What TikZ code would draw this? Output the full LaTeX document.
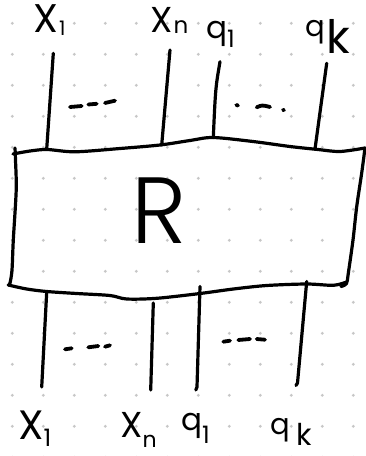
\documentclass[tikz,border=0pt]{standalone}
\usepackage{fontspec}
\newfontfamily\hand{Poppins}
\newfontfamily\handthin{Poppins}[UprightFont=* Light]
\newcommand{\fs}[1]{\fontsize{#1}{#1}\selectfont}
\begin{document}
\begin{tikzpicture}[x=1pt,y=-1pt,line cap=round,line join=round,
  ink/.style={line width=3.2pt,black},
  dashink/.style={line width=3.8pt,black},
  dotg/.style={fill=black!22},
  lbl/.style={anchor=base west,inner sep=0pt,font=\hand}]
\useasboundingbox (0,0) rectangle (366,456);
\fill[white] (0,0) rectangle (366,456);
% dotted grid
\foreach \i in {0,...,11}{\foreach \j in {0,...,14}{\fill[dotg] ({12.3+31*\i},{23.3+31*\j}) circle (1.6pt);}}
% box R
\draw[ink] plot[smooth] coordinates {(13,154) (30,151) (47,149.5) (75,151.8) (120,148.5) (160,145) (190,140.5) (213,137.5) (253,141.5) (290,146.5) (318,149.5) (340,151.5) (365,148)};
\draw[ink] plot[smooth] coordinates {(365,148) (361.7,173) (356.7,206.7) (353,240) (348.3,273.3) (346.5,283.5) (341,286.5)};
\draw[ink] plot[smooth] coordinates {(346.7,282) (333.3,285.3) (306.7,284) (266.7,285.5) (233.3,289) (200,293.5) (156.7,298.3) (126.7,299) (110,295.5) (76.7,293.5) (46.7,291.5) (26.7,289) (8.3,285)};
\draw[ink] plot[smooth] coordinates {(8.3,285) (10,283) (12,270) (13.3,240) (16.2,190) (15.5,160) (15,148)};
\node[inner sep=0pt,font=\handthin\fs{94}] (R) at (159,211) {R};
% top wires
\coordinate (t1a) at (53.3,53.3);  \coordinate (t1b) at (46.7,149);
\coordinate (t2a) at (170,50);     \coordinate (t2b) at (161.7,145);
\coordinate (t3a) at (220,61.7);   \coordinate (t3m) at (215.5,88); \coordinate (t3b) at (213.3,137.5);
\coordinate (t4a) at (326.7,63.3); \coordinate (t4b) at (315,149);
\draw[ink] (t1a) -- (t1b);
\draw[ink] (t2a) -- (t2b);
\draw[ink] (t3a) .. controls (t3m) .. (t3b);
\draw[ink] (t4a) -- (t4b);
% bottom wires
\coordinate (b1a) at (46.7,292);   \coordinate (b1b) at (41.7,387);
\coordinate (b2a) at (153.3,303);  \coordinate (b2b) at (150.7,390);
\coordinate (b3a) at (200,286.5);  \coordinate (b3b) at (197,387); \coordinate (b3c) at (195.8,390);
\coordinate (b4a) at (306.7,281.5);\coordinate (b4b) at (297.5,383); \coordinate (b4c) at (296,385.5);
\draw[ink] (b1a) -- (b1b);
\draw[ink] (b2a) -- (b2b);
\draw[ink] (b3a) -- (b3b) -- (b3c);
\draw[ink] (b4a) -- (b4b) -- (b4c);
% ellipses (dashes)
\draw[dashink] (70,107) -- (81.7,106);
\draw[dashink] (88.3,104.5) -- (96.7,103.8);
\draw[dashink] (105,103) -- (115,100.7);
\draw[dashink] (236.3,105) -- (238,105.5);
\draw[dashink] (256.7,107.3) .. controls (262,105) .. (270,107);
\draw[dashink] (283,109.8) -- (284,110.2);
\draw[dashink] (65,349.3) -- (71.7,348.3);
\draw[dashink] (88.3,347.3) -- (98.3,346);
\draw[dashink] (105,346.7) -- (110,345.3);
\draw[dashink] (223.3,341.7) -- (230,340.7);
\draw[dashink] (238.3,340) -- (250,339);
\draw[dashink] (256.7,339) -- (265,339.7);
% top labels
\node[lbl] (lx1) at (33,32) {\fs{40}X\hspace{1pt}\raisebox{-3pt}{\fs{20}1}};
\node[lbl] (lxn) at (150,32) {\fs{36}X\hspace{1pt}\raisebox{-1pt}{\fs{23}n}};
\node[lbl] (lq1) at (206,38) {\fs{31}q\raisebox{-9pt}{\fs{24}1}};
\node[lbl] (lqk) at (305,36) {\fs{29}q\hspace{2pt}\raisebox{-17pt}{\fs{46}k}};
% bottom labels
\node[lbl] (bx1) at (18,439) {\fs{41}X\raisebox{-7pt}{\fs{24}1}};
\node[lbl] (bxn) at (120,437) {\fs{36}X\raisebox{-10pt}{\fs{22}n}};
\node[lbl] (bq1) at (181,430) {\fs{31}q\raisebox{-13pt}{\fs{24}1}};
\node[lbl] (bqk) at (270,434) {\fs{29}q\hspace{7pt}\raisebox{-11pt}{\fs{30}k}};
\end{tikzpicture}
\end{document}
